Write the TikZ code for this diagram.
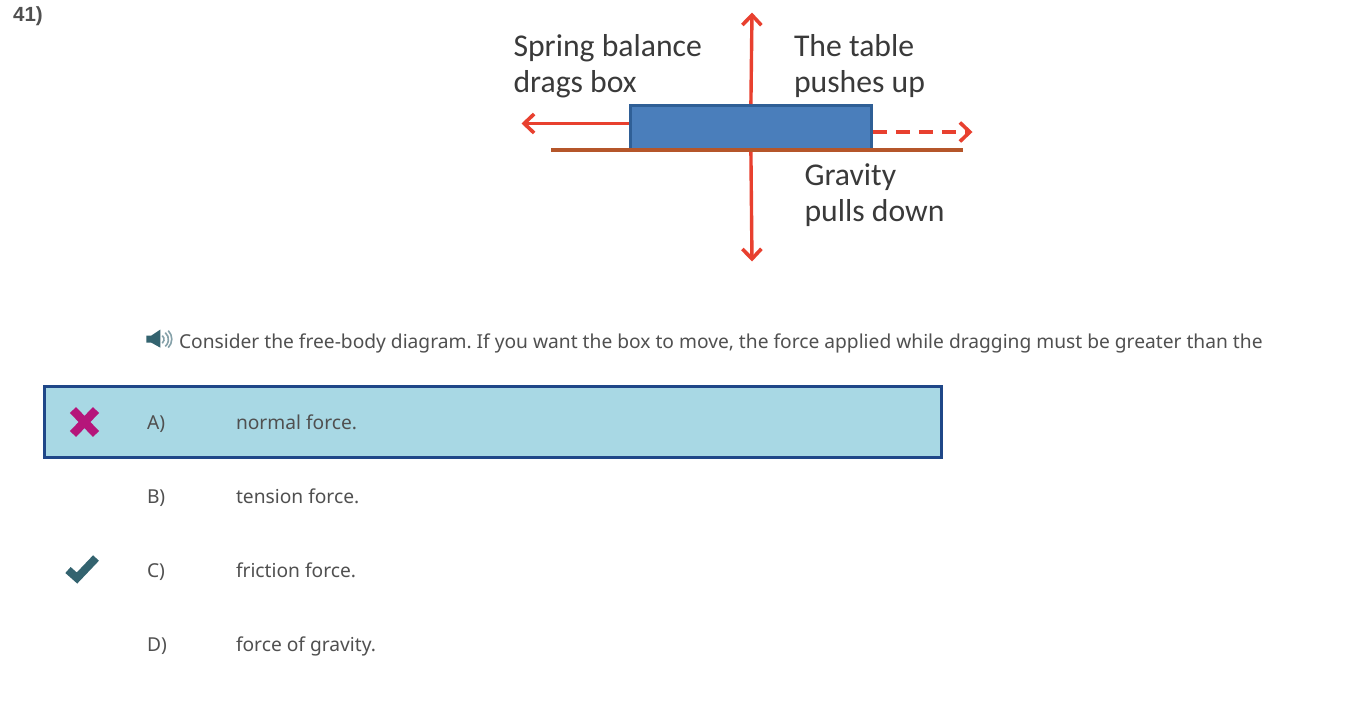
\documentclass[tikz,border=0pt]{standalone}
\usepackage{fontspec}
\setmainfont{Noto Sans}
\newfontfamily\labfont{Carlito}
\newfontfamily\headfont{Liberation Sans}
\usetikzlibrary{arrows.meta}
\definecolor{bodytxt}{HTML}{505050}
\definecolor{labtxt}{HTML}{3A3A3A}
\definecolor{redarrow}{HTML}{E8402F}
\definecolor{boxblue}{HTML}{4A7EBB}
\definecolor{boxedge}{HTML}{2F5F96}
\definecolor{ground}{HTML}{B5562A}
\definecolor{rowfill}{HTML}{A8D8E4}
\definecolor{rowedge}{HTML}{1F4788}
\definecolor{crossc}{HTML}{B5157A}
\definecolor{tealc}{HTML}{33636F}
\frenchspacing
\tikzset{
 x=1pt,y=-1pt,
 bodytext/.style={font=\fontsize{19.2}{22}\selectfont,text=bodytxt,anchor=base west,inner sep=0pt,outer sep=0pt},
 figlabel/.style={font=\labfont\fontsize{31.7}{36}\selectfont,text=labtxt,anchor=base west,inner sep=0pt,outer sep=0pt},
 force/.style={draw=redarrow,line width=3.4pt,-{Straight Barb[length=10pt,width=19pt,line width=3.6pt]}},
}
\begin{document}
\begin{tikzpicture}
\useasboundingbox (0,0) rectangle (1362,715);
\fill[white] (0,0) rectangle (1362,715);
\node[anchor=base west,inner sep=0pt,font=\headfont\bfseries\fontsize{20.5}{24}\selectfont,text=bodytxt] (qnum) at (13,21) {41)};
% figure
\coordinate (upEnd) at (752,12.5);
\coordinate (downEnd) at (752,261.5);
\coordinate (leftEnd) at (521.5,123.5);
\coordinate (rightEnd) at (972.5,132);
\coordinate (groundL) at (551,150);
\coordinate (groundR) at (963,150);
\node[draw=boxedge,fill=boxblue,line width=2.8pt,minimum width=241pt,minimum height=45pt,inner sep=0pt,anchor=north west] (box) at (629,104) {};
\draw[ground,line width=3.4pt] (groundL) -- (groundR);
\draw[force] (box.north) -- (upEnd);
\draw[force] (box.south) -- (downEnd);
\draw[force] (box.west |- leftEnd) -- (leftEnd);
\draw[force,dash pattern=on 14pt off 9pt] (box.east |- rightEnd) -- (rightEnd);
\node[figlabel] (l1) at (513.5,56) {Spring balance};
\node[figlabel] (l2) at (513.5,92) {drags box};
\node[figlabel] (l3) at (794,56) {The table};
\node[figlabel] (l4) at (794,92) {pushes up};
\node[figlabel] (l5) at (804.5,185) {Gravity};
\node[figlabel] (l6) at (804.5,221) {pulls down};
% question
\node[inner sep=0pt] (spk) at (160,339) {\tikz[x=1pt,y=-1pt]{
 \fill[tealc] (0,-4) -- (5,-4) -- (14,-10) -- (14,8) -- (5,3) -- (0,3) -- cycle;
 \draw[tealc!60,line width=1.6pt] (16,-4) arc (-50:50:5);
 \draw[tealc!60,line width=1.6pt] (19,-7) arc (-50:50:9);
 \draw[tealc!60,line width=1.6pt] (22,-9) arc (-45:45:12);
}};
\node[bodytext] (q) at (179,348) {Consider the free-body diagram. If you want the box to move, the force applied while dragging must be greater than the};
% row
\node[draw=rowedge,fill=rowfill,line width=3.2pt,minimum width=897pt,minimum height=71pt,inner sep=0pt,anchor=north west] (row) at (42.5,385) {};
\draw[crossc,line width=8.5pt] (73,410) -- (96,434) (96,410) -- (73,434);
\draw[tealc,line width=8pt] (68,570) -- (77,578) -- (96,558);
\node[bodytext] (a1) at (147,429) {A)};
\node[bodytext] (a2) at (236,429) {normal force.};
\node[bodytext] (b1) at (147,503) {B)};
\node[bodytext] (b2) at (236,503) {tension force.};
\node[bodytext] (c1) at (147,577) {C)};
\node[bodytext] (c2) at (236,577) {friction force.};
\node[bodytext] (d1) at (147,651) {D)};
\node[bodytext] (d2) at (236,651) {force of gravity.};
\end{tikzpicture}
\end{document}
